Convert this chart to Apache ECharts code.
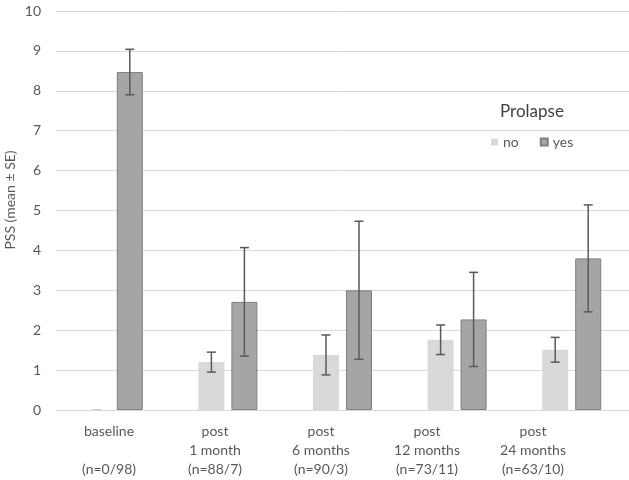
<!DOCTYPE html>
<html>
<head>
<meta charset="utf-8">
<script src="https://cdn.jsdelivr.net/npm/echarts@6/dist/echarts.min.js"></script>
<style>html,body{margin:0;padding:0;background:#fff;}#c{width:629px;height:480px;}</style>
</head>
<body>
<div id="c"></div>
<script>
const categories = ['baseline', 'post\n1 month', 'post\n6 months', 'post\n12 months', 'post\n24 months'];
const categoryLabels = ['baseline\n\n(n=0/98)', 'post\n1 month\n(n=88/7)', 'post\n6 months\n(n=90/3)', 'post\n12 months\n(n=73/11)', 'post\n24 months\n(n=63/10)'];
const noMeans = [0, 1.20, 1.38, 1.76, 1.51];
const noSE = [0, 0.25, 0.50, 0.37, 0.31];
const yesMeans = [8.47, 2.71, 3.00, 2.27, 3.80];
const yesSE = [0.57, 1.36, 1.73, 1.18, 1.34];
const yTicks = [0, 10, 1];

const FONT = 'Lato';
const BAR_W = 26, BAR_GAP = 7;
const OFFSET = (BAR_W + BAR_GAP) / 2;

function errData(means, se) {
  return means.map((m, i) => [i, m, se[i]]);
}
function errRender(sign) {
  return function (params, api) {
    const i = api.value(0), m = api.value(1), e = api.value(2);
    const x = api.coord([i, m])[0] + sign * OFFSET;
    const yt = api.coord([i, m + e])[1];
    const yb = api.coord([i, m - e])[1];
    const col = e === 0 ? '#d0d0d0' : '#595959';
    const st = { stroke: col, lineWidth: 1.5 };
    const cap = 4.5;
    return {
      type: 'group',
      children: [
        { type: 'line', shape: { x1: x, y1: yt, x2: x, y2: yb }, style: st },
        { type: 'line', shape: { x1: x - cap, y1: yt, x2: x + cap, y2: yt }, style: st },
        { type: 'line', shape: { x1: x - cap, y1: yb, x2: x + cap, y2: yb }, style: st }
      ]
    };
  };
}

const chart = echarts.init(document.getElementById('c'));
chart.setOption({
  animation: false,
  backgroundColor: '#fff',
  textStyle: { fontFamily: FONT },
  title: {
    text: 'Prolapse', left: 495, top: 98,
    textStyle: { fontFamily: FONT, fontSize: 17, fontWeight: 'normal', color: '#404040' }
  },
  legend: {
    left: 486, top: 129, itemWidth: 7, itemHeight: 7, itemGap: 21,
    icon: 'rect',
    textStyle: { fontFamily: FONT, fontSize: 14, color: '#595959', lineHeight: 16 },
    data: ['no', 'yes']
  },
  graphic: [{
    type: 'text', x: 10, y: 200, rotation: Math.PI / 2,
    style: { text: 'PSS (mean ± SE)', fontFamily: FONT, fontSize: 14, fill: '#595959', textAlign: 'center', textVerticalAlign: 'middle' }
  }],
  grid: [
    { left: 56, right: 0, top: 11, bottom: 70 },
    { left: 56, right: 43, top: 11, bottom: 70 }
  ],
  xAxis: [
    { type: 'category', gridIndex: 0, data: categories,
      axisLine: { lineStyle: { color: '#d9d9d9' } }, axisTick: { show: false }, axisLabel: { show: false } },
    { type: 'category', gridIndex: 1, data: categoryLabels,
      axisLine: { show: false }, axisTick: { show: false },
      axisLabel: { fontFamily: FONT, fontSize: 14, color: '#595959', lineHeight: 19, margin: 12, interval: 0 } }
  ],
  yAxis: [
    { type: 'value', gridIndex: 0, min: yTicks[0], max: yTicks[1], interval: yTicks[2],
      axisLine: { show: false }, axisTick: { show: false },
      splitLine: { lineStyle: { color: '#d9d9d9', width: 1 } },
      axisLabel: { fontFamily: FONT, fontSize: 14, color: '#595959', margin: 15 } },
    { type: 'value', gridIndex: 1, min: 0, max: 10, show: false }
  ],
  series: [
    { name: 'no', type: 'bar', xAxisIndex: 0, yAxisIndex: 0, data: noMeans, barWidth: BAR_W,
      barGap: (BAR_GAP / BAR_W * 100) + '%',
      itemStyle: { color: '#d9d9d9' } },
    { name: 'yes', type: 'bar', xAxisIndex: 0, yAxisIndex: 0, data: yesMeans, barWidth: BAR_W,
      barGap: (BAR_GAP / BAR_W * 100) + '%',
      itemStyle: { color: '#a5a5a5', borderColor: '#7f7f7f', borderWidth: 1 } },
    { type: 'custom', xAxisIndex: 0, yAxisIndex: 0, data: errData(noMeans, noSE), renderItem: errRender(-1), z: 5, silent: true },
    { type: 'custom', xAxisIndex: 0, yAxisIndex: 0, data: errData(yesMeans, yesSE), renderItem: errRender(1), z: 5, silent: true }
  ]
});
</script>
</body>
</html>
